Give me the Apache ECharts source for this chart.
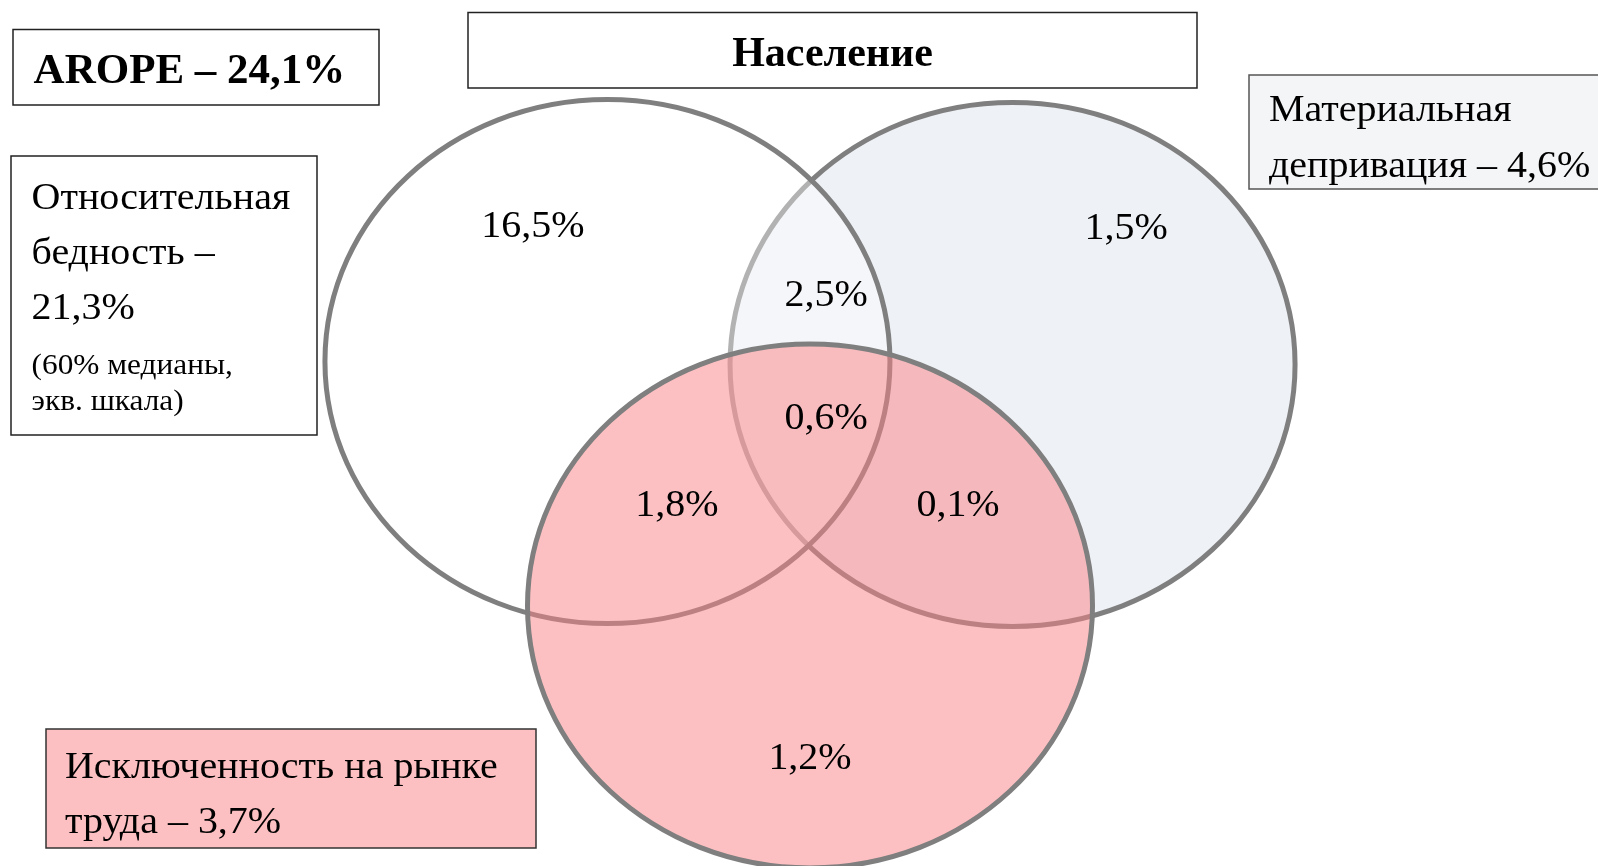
<!DOCTYPE html>
<html>
<head>
<meta charset="utf-8">
<script src="https://cdn.jsdelivr.net/npm/echarts@6/dist/echarts.min.js"></script>
<style>
  html, body { margin: 0; padding: 0; background: #fff; }
  #chart { width: 1598px; height: 866px; }
</style>
</head>
<body>
<div id="chart"></div>
<script>
// множества: порядок отрисовки — депривация, бедность, рынок труда
const setNames = ['Материальная депривация', 'Относительная бедность', 'Исключенность на рынке труда'];
const setShares = [4.6, 21.3, 3.7];
const setCenters = [[0.717, 0.922], [-0.717, 0.933], [0, 0]]; // условные единицы, радиус = 1
const setRadius = 1;

// доли в областях диаграммы
const regionValues = [16.5, 1.5, 2.5, 0.6, 1.8, 0.1, 1.2];
const regionAt = [[-0.981, 1.458], [1.119, 1.450], [0.057, 1.195], [0.057, 0.725], [-0.471, 0.393], [0.524, 0.393], [0, -0.573]];

const aropeShare = 24.1;
const titleText = 'Население';
const povertyNote = ['(60% медианы,', 'экв. шкала)'];

const fmt = v => v.toFixed(1).replace('.', ',') + '%';

const serif = '"Liberation Serif", "Times New Roman", serif';
const stretch = 1.08; // текст в оригинале чуть шире
const dy = 3; // поправка базовой линии
const setFills = ['#eef1f5', 'rgba(255,255,255,0.4)', 'rgba(251,129,133,0.5)'];

function textEl(str, x, y, size, opts) {
  opts = opts || {};
  return {
    type: 'text',
    x: x,
    y: y + dy,
    scaleX: opts.scaleX == null ? stretch : opts.scaleX,
    z: 5,
    style: {
      text: str,
      fontSize: size,
      fontFamily: serif,
      fontWeight: opts.bold ? 'bold' : 'normal',
      fill: '#000',
      align: opts.align || 'left',
      textAlign: opts.align || 'left',
      verticalAlign: 'middle',
      textVerticalAlign: 'middle'
    }
  };
}

function boxEl(x, y, w, h, fill, stroke) {
  return {
    type: 'rect',
    z: 4,
    shape: { x: x, y: y, width: w, height: h },
    style: { fill: fill, stroke: stroke, lineWidth: 1.5 }
  };
}

const chart = echarts.init(document.getElementById('chart'));

const option = {
  animation: false,
  // сетка целиком внутри холста: 1 ед. по x = 282.5 px, по y = 262 px
  grid: { left: 19, top: 29.6, width: 1553.75, height: 812.2 },
  xAxis: { type: 'value', min: -2.8, max: 2.7, show: false },
  yAxis: { type: 'value', min: -0.9, max: 2.2, show: false },
  series: [
    {
      // круги множеств
      type: 'custom',
      name: 'sets',
      data: setCenters.map((c, i) => [c[0], c[1], setShares[i]]),
      encode: { x: 0, y: 1 },
      renderItem: (params, api) => {
        const c = api.coord([api.value(0), api.value(1)]);
        const s = api.size([setRadius, setRadius]);
        return {
          type: 'ellipse',
          shape: { cx: c[0], cy: c[1], rx: s[0], ry: s[1] },
          style: { fill: setFills[params.dataIndex], stroke: '#7f7f7f', lineWidth: 5 }
        };
      },
      z: 2
    },
    {
      // подписи областей
      type: 'custom',
      name: 'regions',
      data: regionAt.map((p, i) => [p[0], p[1], regionValues[i]]),
      encode: { x: 0, y: 1 },
      renderItem: (params, api) => {
        const c = api.coord([api.value(0), api.value(1)]);
        return textEl(fmt(api.value(2)), c[0], c[1], 37, { align: 'center' });
      },
      z: 3
    }
  ],
  graphic: [
    boxEl(13, 29.5, 366, 75.5, '#fff', '#222'),
    textEl('AROPE – ' + fmt(aropeShare), 33.6, 69, 43, { bold: true, scaleX: 1 }),

    boxEl(468, 12.5, 729, 75.5, '#fff', '#222'),
    textEl(titleText, 832.5, 52, 42, { bold: true, scaleX: 1, align: 'center' }),

    boxEl(11, 156, 306, 279, '#fff', '#222'),
    textEl('Относительная', 31.6, 196, 37),
    textEl('бедность –', 31.6, 251, 37),
    textEl(fmt(setShares[1]), 31.6, 306, 37),
    textEl(povertyNote[0], 31.6, 363, 29),
    textEl(povertyNote[1], 31.6, 399, 29),

    boxEl(1249, 75, 360, 114, '#f4f5f7', '#555'),
    textEl('Материальная', 1269, 108.5, 37),
    textEl('депривация – ' + fmt(setShares[0]), 1269, 164, 37),

    boxEl(46, 729, 490, 119, '#fdc0c2', '#333'),
    textEl('Исключенность на рынке', 65, 765, 37),
    textEl('труда – ' + fmt(setShares[2]), 65, 820, 37)
  ]
};

chart.setOption(option);
</script>
</body>
</html>
